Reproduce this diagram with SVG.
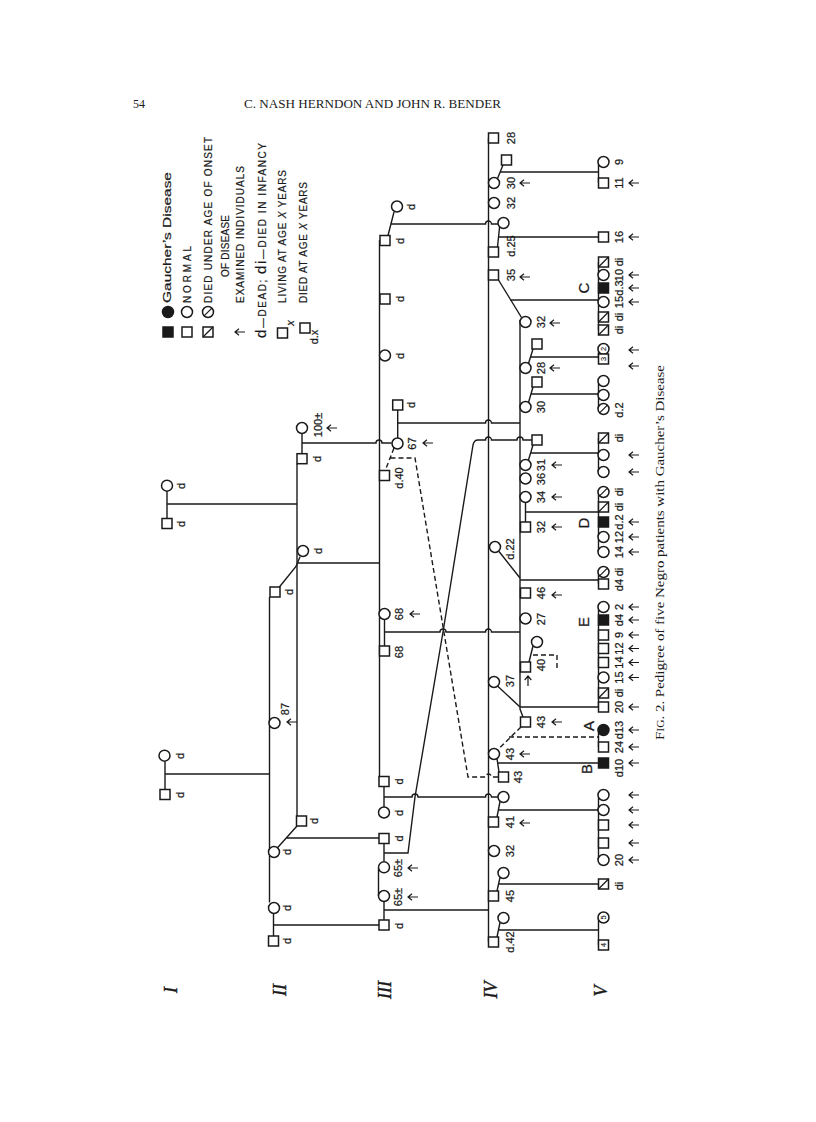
<svg xmlns="http://www.w3.org/2000/svg" width="816" height="1122" viewBox="0 0 816 1122">
<style>
.l{fill:none;stroke:#1a1a1a;stroke-width:1.4}
.dl{fill:none;stroke:#1a1a1a;stroke-width:1.4;stroke-dasharray:5 3}
.s{fill:#fff;stroke:#1a1a1a;stroke-width:1.5}
.f{fill:#1a1a1a;stroke:#1a1a1a;stroke-width:1.5}
.a{fill:none;stroke:#1a1a1a;stroke-width:1.2}
.t{font-family:"Liberation Sans",Arial,sans-serif;font-size:11px;fill:#1a1a1a;stroke:#1a1a1a;stroke-width:0.25;text-anchor:middle;dominant-baseline:central}
.in{font-size:7.5px;stroke-width:0.1}
.big{font-size:15px}
.lg{font-family:"Liberation Sans",Arial,sans-serif;font-size:10px;fill:#1a1a1a;stroke:#1a1a1a;stroke-width:0.2;dominant-baseline:central}
.sf{font-family:"Liberation Serif","Times New Roman",serif;fill:#1a1a1a}
.gen{font-family:"Liberation Serif","Times New Roman",serif;font-style:italic;font-size:18px;fill:#1a1a1a;stroke:#1a1a1a;stroke-width:0.4;text-anchor:middle;dominant-baseline:central}
</style>
<defs>
<rect id="q" x="-5" y="-5" width="10" height="10"/>
<circle id="o" r="5.5"/>
<path id="qs" d="M-5,5L5,-5"/>
<path id="os" d="M-3.9,3.9L3.9,-3.9"/>
<path id="ar" d="M0,0H10M4,-3.3L0,0L4,3.3"/>
</defs>
<rect width="816" height="1122" fill="#fff"/>

<g id="header">
<text class="sf" x="133" y="108" font-size="12">54</text>
<text class="sf" x="244" y="108" font-size="12" textLength="257" lengthAdjust="spacingAndGlyphs">C. NASH HERNDON AND JOHN R. BENDER</text>
</g>

<g id="legend">
<use href="#o" class="f" x="168" y="312"/><use href="#q" class="f" x="168" y="332"/>
<text class="lg" font-size="15" transform="translate(167,303) rotate(-90)" textLength="131" lengthAdjust="spacingAndGlyphs">Gaucher’s Disease</text>
<use href="#o" class="s" x="187" y="312"/><use href="#q" class="s" x="187" y="332"/>
<text class="lg" transform="translate(187,303) rotate(-90)" textLength="57" lengthAdjust="spacing">NORMAL</text>
<use href="#o" class="s" x="208" y="312"/><use href="#os" class="a" x="208" y="312"/>
<use href="#q" class="s" x="208" y="332"/><use href="#qs" class="a" x="208" y="332"/>
<text class="lg" transform="translate(208,303) rotate(-90)" textLength="166" lengthAdjust="spacing">DIED UNDER AGE OF ONSET</text>
<text class="lg" transform="translate(225,277) rotate(-90)" textLength="62" lengthAdjust="spacing">OF DISEASE</text>
<use href="#ar" class="a" x="235" y="332"/>
<text class="lg" transform="translate(240,303) rotate(-90)" textLength="137" lengthAdjust="spacing">EXAMINED INDIVIDUALS</text>
<text class="lg" style="dominant-baseline:alphabetic" transform="translate(266,338) rotate(-90)" textLength="195" lengthAdjust="spacing"><tspan font-size="15">d</tspan>—DEAD; <tspan font-size="15">di</tspan>—DIED IN INFANCY</text>
<use href="#q" class="s" x="282.5" y="333"/>
<text class="t" font-size="9" font-style="italic" transform="translate(290,323) rotate(-90)">x</text>
<text class="lg" transform="translate(282,303) rotate(-90)" textLength="133" lengthAdjust="spacing">LIVING AT AGE <tspan font-style="italic">X</tspan> YEARS</text>
<use href="#q" class="s" x="305" y="328"/>
<text class="t" font-size="8" transform="translate(314,337) rotate(-90)">d.x</text>
<text class="lg" transform="translate(303,303) rotate(-90)" textLength="121" lengthAdjust="spacing">DIED AT AGE <tspan font-style="italic">X</tspan> YEARS</text>
</g>

<g id="generation-labels">
<text class="gen" transform="translate(171,990) rotate(-90)">I</text>
<text class="gen" transform="translate(280,990) rotate(-90)">II</text>
<text class="gen" transform="translate(385,990) rotate(-90)">III</text>
<text class="gen" transform="translate(491,990) rotate(-90)">IV</text>
<text class="gen" transform="translate(601,991) rotate(-90)">V</text>
</g>

<g id="connectors" class="l">
<path d="M167,491.2V518.5M167,504H297"/>
<path d="M165,761.2V789.5M165,774H269.5"/>
<path d="M302,433.5V453.7M302,443H376a3,3 0 0 1 6,0H391.5"/>
<path d="M297,463.7V816"/>
<path d="M279,587.5L296,566.5L300,556.8M298,563H379.5"/>
<path d="M269.5,597V902.5"/>
<path d="M277.5,847.8L297,826M286.5,838H379"/>
<path d="M273.5,913.5V936M273.5,925H379"/>
<path d="M394,212L388,235.5M391,224H485.5a3,3 0 0 1 6,0H498"/>
<path d="M379.5,240V781"/>
<path d="M397.7,410V438M397.7,423H485.5a3,3 0 0 1 6,0H520"/>
<path d="M384.5,619.5V646M384.5,632H440a3,3 0 0 1 6,0H485.5a3,3 0 0 1 6,0H520"/>
<path d="M384,786.5V807M384,797H412a3,3 0 0 1 6,0H485.5a3,3 0 0 1 6,0H498"/>
<path d="M384,843.5V861.8M384,853H408L415,797L443,632L473,445Q474,440 478,440H485.5a3,3 0 0 1 6,0H517a3,3 0 0 1 6,0H532"/>
<path d="M378.5,868V896"/>
<path d="M384,901.5V920M384,910H488.5"/>
<path d="M488.5,138V942"/>
<path d="M503,165L497.5,178.5M500,172H598.5"/>
<path d="M499.6,226.9L497.5,247M498.5,237H598.5"/>
<path d="M498.5,280L521.5,317.5M510,300H598.5"/>
<path d="M520,320V709L523,717"/>
<path d="M533,349L528.5,363.5M531,357H598.5"/>
<path d="M533,387L528.5,402.5M531,394H598.5"/>
<path d="M533,445L528.5,460M531,453H598.5"/>
<path d="M525.5,502.5V522M525.5,512H598.5"/>
<path d="M499,551.5L520,578M520,580H598.5"/>
<path d="M533,646L529,662"/>
<path d="M497.5,686L520,707M520,707H598.5"/>
<path d="M497,758.5L499,772M498,763H598.5"/>
<path d="M500,801.5L497,817M499,810H598.5"/>
<path d="M500,877.5L497,891M499,884H598.5"/>
<path d="M500,922.5L497,937M499,930H598.5"/>
<path d="M598.5,162V183M598.5,262V330M598.5,349V358.5M598.5,381V409M598.5,438V472M598.5,492V552M598.5,572V584M598.5,607V707M598.5,730V747M598.5,795V860M598.5,917.5V945"/>
<path class="dl" d="M394,448L385,471M390.5,458H415L468,777H485.5a3,3 0 0 1 6,0H498.5"/>
<path class="dl" d="M533,655H557V669"/>
<path class="dl" d="M521,727L497.5,750M509,737H598.5"/>
</g>

<g id="gen-I">
<g id="I-1"><use href="#o" class="s" x="167" y="485.7"/><text class="t" transform="translate(180.5,486) rotate(-90)">d</text></g>
<g id="I-2"><use href="#q" class="s" x="167" y="523.5"/><text class="t" transform="translate(180.5,524) rotate(-90)">d</text></g>
<g id="I-3"><use href="#o" class="s" x="164.5" y="755.7"/><text class="t" transform="translate(179.5,756) rotate(-90)">d</text></g>
<g id="I-4"><use href="#q" class="s" x="165" y="794.5"/><text class="t" transform="translate(179.5,795) rotate(-90)">d</text></g>
</g>

<g id="gen-II">
<g id="II-1"><use href="#o" class="s" x="302" y="428"/><text class="t" transform="translate(318,425) rotate(-90)">100±</text><use href="#ar" class="a" x="327" y="428"/></g>
<g id="II-2"><use href="#q" class="s" x="302" y="458.7"/><text class="t" transform="translate(316.5,459) rotate(-90)">d</text></g>
<g id="II-3"><use href="#o" class="s" x="303" y="551"/><text class="t" transform="translate(318,551) rotate(-90)">d</text></g>
<g id="II-4"><use href="#q" class="s" x="275" y="592"/><text class="t" transform="translate(288.5,592) rotate(-90)">d</text></g>
<g id="II-5"><use href="#o" class="s" x="274.5" y="723"/><text class="t" transform="translate(285,709) rotate(-90)">87</text><use href="#ar" class="a" x="287" y="722"/></g>
<g id="II-6"><use href="#q" class="s" x="301.5" y="821"/><text class="t" transform="translate(313.5,821) rotate(-90)">d</text></g>
<g id="II-7"><use href="#o" class="s" x="274" y="852"/><text class="t" transform="translate(286.5,852) rotate(-90)">d</text></g>
<g id="II-8"><use href="#o" class="s" x="274" y="908"/><text class="t" transform="translate(286.5,908) rotate(-90)">d</text></g>
<g id="II-9"><use href="#q" class="s" x="273.5" y="941"/><text class="t" transform="translate(286.5,941) rotate(-90)">d</text></g>
</g>

<g id="gen-III">
<g id="III-1"><use href="#o" class="s" x="397" y="206.5"/><text class="t" transform="translate(410.5,207) rotate(-90)">d</text></g>
<g id="III-2"><use href="#q" class="s" x="385" y="240.5"/><text class="t" transform="translate(399.5,241) rotate(-90)">d</text></g>
<g id="III-3"><use href="#q" class="s" x="385" y="299"/><text class="t" transform="translate(399.5,299) rotate(-90)">d</text></g>
<g id="III-4"><use href="#o" class="s" x="385" y="355.5"/><text class="t" transform="translate(399.5,356) rotate(-90)">d</text></g>
<g id="III-5"><use href="#q" class="s" x="397.7" y="405"/><text class="t" transform="translate(410.5,405) rotate(-90)">d</text></g>
<g id="III-6"><use href="#o" class="s" x="397.5" y="443.5"/><text class="t" transform="translate(412,443.5) rotate(-90)">67</text><use href="#ar" class="a" x="423" y="443"/></g>
<g id="III-7"><use href="#q" class="s" x="384.5" y="475.5"/><text class="t" transform="translate(398.5,478) rotate(-90)">d.40</text></g>
<g id="III-8"><use href="#o" class="s" x="384.5" y="614"/><text class="t" transform="translate(399,614) rotate(-90)">68</text><use href="#ar" class="a" x="410" y="614"/></g>
<g id="III-9"><use href="#q" class="s" x="384.5" y="651"/><text class="t" transform="translate(399,652) rotate(-90)">68</text></g>
<g id="III-10"><use href="#q" class="s" x="384" y="781.5"/><text class="t" transform="translate(398.5,781.5) rotate(-90)">d</text></g>
<g id="III-11"><use href="#o" class="s" x="384" y="812.5"/><text class="t" transform="translate(398.5,813) rotate(-90)">d</text></g>
<g id="III-12"><use href="#q" class="s" x="384" y="838.5"/><text class="t" transform="translate(398.5,838.5) rotate(-90)">d</text></g>
<g id="III-13"><use href="#o" class="s" x="384" y="867.3"/><text class="t" transform="translate(397.5,868) rotate(-90)">65±</text><use href="#ar" class="a" x="408" y="868"/></g>
<g id="III-14"><use href="#o" class="s" x="384" y="896"/><text class="t" transform="translate(397.5,897) rotate(-90)">65±</text><use href="#ar" class="a" x="408" y="897"/></g>
<g id="III-15"><use href="#q" class="s" x="384" y="925"/><text class="t" transform="translate(398.5,926) rotate(-90)">d</text></g>
</g>

<g id="gen-IV">
<g id="IV-1"><use href="#q" class="s" x="493.5" y="138"/><text class="t" transform="translate(511,138) rotate(-90)">28</text></g>
<g id="IV-2"><use href="#q" class="s" x="506.5" y="160"/></g>
<g id="IV-3"><use href="#o" class="s" x="494" y="183"/><text class="t" transform="translate(511,183) rotate(-90)">30</text><use href="#ar" class="a" x="520" y="183"/></g>
<g id="IV-4"><use href="#o" class="s" x="494" y="203"/><text class="t" transform="translate(511,203) rotate(-90)">32</text></g>
<g id="IV-5"><use href="#o" class="s" x="503.5" y="223"/></g>
<g id="IV-6"><use href="#q" class="s" x="493.5" y="252"/><text class="t" transform="translate(511,246) rotate(-90)">d.25</text></g>
<g id="IV-7"><use href="#q" class="s" x="493.5" y="275"/><text class="t" transform="translate(511,275) rotate(-90)">35</text><use href="#ar" class="a" x="520" y="277"/></g>
<g id="IV-8"><use href="#o" class="s" x="525.5" y="322"/><text class="t" transform="translate(541,322) rotate(-90)">32</text><use href="#ar" class="a" x="550" y="323"/></g>
<g id="IV-9"><use href="#q" class="s" x="537" y="344"/></g>
<g id="IV-10"><use href="#o" class="s" x="525.5" y="368"/><text class="t" transform="translate(541,368) rotate(-90)">28</text><use href="#ar" class="a" x="550" y="368"/></g>
<g id="IV-11"><use href="#q" class="s" x="537" y="382"/></g>
<g id="IV-12"><use href="#o" class="s" x="525.5" y="407"/><text class="t" transform="translate(541,407) rotate(-90)">30</text></g>
<g id="IV-13"><use href="#q" class="s" x="537" y="440"/></g>
<g id="IV-14"><use href="#o" class="s" x="525.5" y="465"/><text class="t" transform="translate(541,465) rotate(-90)">31</text><use href="#ar" class="a" x="552" y="465"/></g>
<g id="IV-15"><use href="#o" class="s" x="525.5" y="478.5"/><text class="t" transform="translate(541,479) rotate(-90)">36</text></g>
<g id="IV-16"><use href="#o" class="s" x="525.5" y="497"/><text class="t" transform="translate(541,497) rotate(-90)">34</text><use href="#ar" class="a" x="552" y="497"/></g>
<g id="IV-17"><use href="#q" class="s" x="525.5" y="527"/><text class="t" transform="translate(541,527) rotate(-90)">32</text><use href="#ar" class="a" x="552" y="527"/></g>
<g id="IV-18"><use href="#o" class="s" x="495" y="547"/><text class="t" transform="translate(509.5,549) rotate(-90)">d.22</text></g>
<g id="IV-19"><use href="#q" class="s" x="525.5" y="593"/><text class="t" transform="translate(541,593) rotate(-90)">46</text><use href="#ar" class="a" x="552" y="595"/></g>
<g id="IV-20"><use href="#o" class="s" x="525.5" y="618.5"/><text class="t" transform="translate(541,619) rotate(-90)">27</text></g>
<g id="IV-21"><use href="#o" class="s" x="537" y="642"/></g>
<g id="IV-22"><use href="#q" class="s" x="525.5" y="667"/><text class="t" transform="translate(541,665) rotate(-90)">40</text><use href="#ar" class="a" transform="translate(528,676) rotate(90)"/></g>
<g id="IV-23"><use href="#o" class="s" x="494" y="682"/><text class="t" transform="translate(510,681) rotate(-90)">37</text></g>
<g id="IV-24"><use href="#q" class="s" x="525.5" y="722"/><text class="t" transform="translate(541,722) rotate(-90)">43</text><use href="#ar" class="a" x="552" y="722"/></g>
<g id="IV-25"><use href="#o" class="s" x="494" y="754"/><text class="t" transform="translate(510,754) rotate(-90)">43</text><use href="#ar" class="a" x="520" y="754"/></g>
<g id="IV-26"><use href="#q" class="s" x="503.5" y="777"/><text class="t" transform="translate(518,777) rotate(-90)">43</text></g>
<g id="IV-27"><use href="#o" class="s" x="503.5" y="797"/></g>
<g id="IV-28"><use href="#q" class="s" x="493.5" y="822"/><text class="t" transform="translate(510,822) rotate(-90)">41</text><use href="#ar" class="a" x="520" y="823"/></g>
<g id="IV-29"><use href="#o" class="s" x="494" y="851"/><text class="t" transform="translate(510,851) rotate(-90)">32</text></g>
<g id="IV-30"><use href="#o" class="s" x="503.5" y="873"/></g>
<g id="IV-31"><use href="#q" class="s" x="493.5" y="896"/><text class="t" transform="translate(510,896) rotate(-90)">45</text></g>
<g id="IV-32"><use href="#o" class="s" x="503.5" y="918"/></g>
<g id="IV-33"><use href="#q" class="s" x="493.5" y="942"/><text class="t" transform="translate(510,942) rotate(-90)">d.42</text></g>
</g>

<g id="gen-V">
<g id="V-1"><use href="#o" class="s" x="603.5" y="162"/><text class="t" transform="translate(619,162) rotate(-90)">9</text></g>
<g id="V-2"><use href="#q" class="s" x="603.5" y="183"/><text class="t" transform="translate(619,183) rotate(-90)">11</text><use href="#ar" class="a" x="629" y="183"/></g>
<g id="V-3"><use href="#q" class="s" x="603.5" y="237"/><text class="t" transform="translate(619,237) rotate(-90)">16</text><use href="#ar" class="a" x="629" y="237"/></g>
<g id="V-4"><use href="#q" class="s" x="603.5" y="262"/><use href="#qs" class="a" x="603.5" y="262"/><text class="t" transform="translate(619,262) rotate(-90)">di</text></g>
<g id="V-5"><use href="#o" class="s" x="603.5" y="275"/><text class="t" transform="translate(619,275) rotate(-90)">10</text><use href="#ar" class="a" x="629" y="275"/></g>
<g id="V-6"><use href="#q" class="f" x="603.5" y="288"/><text class="t" transform="translate(619,288) rotate(-90)">d.3</text><use href="#ar" class="a" x="629" y="288"/><text class="t big" transform="translate(583,288) rotate(-90)">C</text></g>
<g id="V-7"><use href="#o" class="s" x="603.5" y="302"/><text class="t" transform="translate(619,302) rotate(-90)">15</text><use href="#ar" class="a" x="629" y="302"/></g>
<g id="V-8"><use href="#q" class="s" x="603.5" y="317"/><use href="#qs" class="a" x="603.5" y="317"/><text class="t" transform="translate(619,317) rotate(-90)">di</text></g>
<g id="V-9"><use href="#q" class="s" x="603.5" y="330"/><use href="#qs" class="a" x="603.5" y="330"/><text class="t" transform="translate(619,330) rotate(-90)">di</text></g>
<g id="V-10"><use href="#o" class="s" x="603.5" y="349"/><text class="t in" transform="translate(603.5,349) rotate(-90)">2</text><use href="#ar" class="a" x="629" y="350"/></g>
<g id="V-11"><use href="#q" class="s" x="603.5" y="359"/><text class="t in" transform="translate(603.5,359) rotate(-90)">3</text><use href="#ar" class="a" x="629" y="366"/></g>
<g id="V-12"><use href="#o" class="s" x="603.5" y="381"/></g>
<g id="V-13"><use href="#o" class="s" x="603.5" y="395"/></g>
<g id="V-14"><use href="#o" class="s" x="603.5" y="409"/><use href="#os" class="a" x="603.5" y="409"/><text class="t" transform="translate(619,410) rotate(-90)">d.2</text></g>
<g id="V-15"><use href="#q" class="s" x="603.5" y="438"/><use href="#qs" class="a" x="603.5" y="438"/><text class="t" transform="translate(619,438) rotate(-90)">di</text></g>
<g id="V-16"><use href="#o" class="s" x="603.5" y="455"/><use href="#ar" class="a" x="629" y="455"/></g>
<g id="V-17"><use href="#o" class="s" x="603.5" y="472"/><use href="#ar" class="a" x="629" y="472"/></g>
<g id="V-18"><use href="#o" class="s" x="603.5" y="492"/><use href="#os" class="a" x="603.5" y="492"/><text class="t" transform="translate(619,492) rotate(-90)">di</text></g>
<g id="V-19"><use href="#q" class="s" x="603.5" y="507"/><use href="#qs" class="a" x="603.5" y="507"/><text class="t" transform="translate(619,507) rotate(-90)">di</text></g>
<g id="V-20"><use href="#q" class="f" x="603.5" y="522"/><text class="t" transform="translate(619,522) rotate(-90)">d.2</text><use href="#ar" class="a" x="629" y="522"/><text class="t big" transform="translate(583,523) rotate(-90)">D</text></g>
<g id="V-21"><use href="#o" class="s" x="603.5" y="537"/><text class="t" transform="translate(619,537) rotate(-90)">12</text><use href="#ar" class="a" x="629" y="537"/></g>
<g id="V-22"><use href="#o" class="s" x="603.5" y="552"/><text class="t" transform="translate(619,552) rotate(-90)">14</text><use href="#ar" class="a" x="629" y="552"/></g>
<g id="V-23"><use href="#o" class="s" x="603.5" y="572"/><use href="#os" class="a" x="603.5" y="572"/><text class="t" transform="translate(619,572) rotate(-90)">di</text></g>
<g id="V-24"><use href="#q" class="s" x="603.5" y="584"/><text class="t" transform="translate(619,585) rotate(-90)">d4</text></g>
<g id="V-25"><use href="#o" class="s" x="603.5" y="607"/><text class="t" transform="translate(619,607) rotate(-90)">2</text><use href="#ar" class="a" x="629" y="607"/></g>
<g id="V-26"><use href="#q" class="f" x="603.5" y="620"/><text class="t" transform="translate(619,620) rotate(-90)">d4</text><use href="#ar" class="a" x="629" y="620"/><text class="t big" transform="translate(583,622) rotate(-90)">E</text></g>
<g id="V-27"><use href="#q" class="s" x="603.5" y="635"/><text class="t" transform="translate(619,635) rotate(-90)">9</text><use href="#ar" class="a" x="629" y="635"/></g>
<g id="V-28"><use href="#q" class="s" x="603.5" y="648.5"/><text class="t" transform="translate(619,648.5) rotate(-90)">12</text><use href="#ar" class="a" x="629" y="648.5"/></g>
<g id="V-29"><use href="#q" class="s" x="603.5" y="662.5"/><text class="t" transform="translate(619,662.5) rotate(-90)">14</text><use href="#ar" class="a" x="629" y="662.5"/></g>
<g id="V-30"><use href="#o" class="s" x="603.5" y="677.5"/><text class="t" transform="translate(619,677.5) rotate(-90)">15</text><use href="#ar" class="a" x="629" y="677.5"/></g>
<g id="V-31"><use href="#q" class="s" x="603.5" y="693"/><use href="#qs" class="a" x="603.5" y="693"/><text class="t" transform="translate(619,693) rotate(-90)">di</text></g>
<g id="V-32"><use href="#q" class="s" x="603.5" y="707"/><text class="t" transform="translate(619,707) rotate(-90)">20</text><use href="#ar" class="a" x="629" y="707"/></g>
<g id="V-33"><use href="#o" class="f" x="603.5" y="730"/><text class="t" transform="translate(619,730) rotate(-90)">d13</text><use href="#ar" class="a" x="629" y="730"/><text class="t big" transform="translate(588,726) rotate(-90)">A</text></g>
<g id="V-34"><use href="#q" class="s" x="603.5" y="747"/><text class="t" transform="translate(619,747) rotate(-90)">24</text><use href="#ar" class="a" x="629" y="747"/></g>
<g id="V-35"><use href="#q" class="f" x="603.5" y="763"/><text class="t" transform="translate(619,768) rotate(-90)">d10</text><use href="#ar" class="a" x="629" y="763"/><text class="t big" transform="translate(586,769) rotate(-90)">B</text></g>
<g id="V-36"><use href="#o" class="s" x="603.5" y="795"/><use href="#ar" class="a" x="629" y="795"/></g>
<g id="V-37"><use href="#o" class="s" x="603.5" y="810"/><use href="#ar" class="a" x="629" y="810"/></g>
<g id="V-38"><use href="#q" class="s" x="603.5" y="825"/><use href="#ar" class="a" x="629" y="825"/></g>
<g id="V-39"><use href="#q" class="s" x="603.5" y="843"/><use href="#ar" class="a" x="629" y="843"/></g>
<g id="V-40"><use href="#o" class="s" x="603.5" y="860"/><text class="t" transform="translate(619,860) rotate(-90)">20</text><use href="#ar" class="a" x="629" y="860"/></g>
<g id="V-41"><use href="#q" class="s" x="603.5" y="884"/><use href="#qs" class="a" x="603.5" y="884"/><text class="t" transform="translate(619,886) rotate(-90)">di</text></g>
<g id="V-42"><use href="#o" class="s" x="603.5" y="917.5"/><text class="t in" transform="translate(603.5,917.5) rotate(-90)">5</text></g>
<g id="V-43"><use href="#q" class="s" x="603.5" y="945"/><text class="t in" transform="translate(603.5,945) rotate(-90)">4</text></g>
</g>

<g id="caption">
<text class="sf" font-size="13" transform="translate(664,740) rotate(-90)" textLength="375" lengthAdjust="spacingAndGlyphs">F<tspan font-size="10">IG</tspan>. 2.  Pedigree of five Negro patients with Gaucher’s Disease</text>
</g>
</svg>
